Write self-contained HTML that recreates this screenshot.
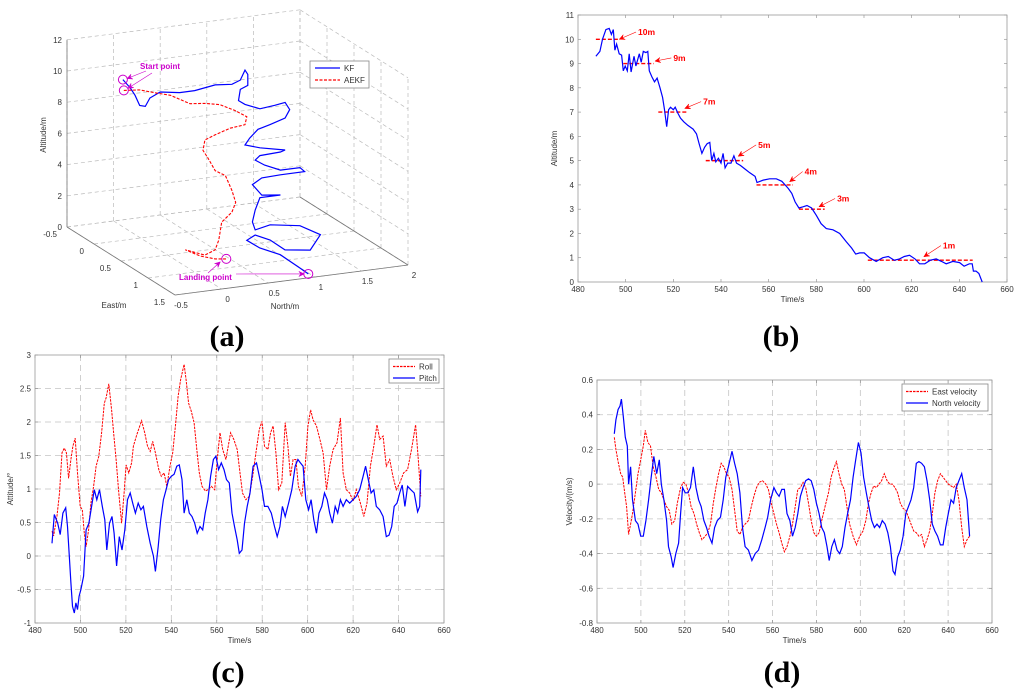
<!DOCTYPE html>
<html><head><meta charset="utf-8"><style>
html,body{margin:0;padding:0;background:#fff;}
svg{display:block;font-family:"Liberation Sans",Arial,sans-serif;}
.tk{font-size:8px;fill:#333;}
.pl{font-family:"Liberation Serif",serif;font-weight:bold;font-size:30px;fill:#000;}
</style></head><body>
<svg id="fig" width="1024" height="694" viewBox="0 0 1024 694"></svg>
<script>
// ---------- data: panel (a) 3D trajectories ----------
const kfNorth=[-0.19,-0.11,-0.06,-0.01,0.05,0.10,0.21,0.42,0.58,0.80,0.98,1.07,1.12,1.15,1.15,1.07,1.05,1.12,1.28,1.44,1.55,1.60,1.55,1.39,1.26,1.17,1.12,1.28,1.55,1.50,1.28,1.23,1.33,1.50,1.71,1.76,1.50,1.30,1.20,1.30,1.50,1.28,1.23,1.20,0.65,0.81,1.13,1.35,1.24,0.97,0.81,0.65,0.56,0.70,0.92,0.84,0.93];
const kfEast=[0,0,0,0,0,0,0,0,0,0,0,0,0,0,0,0,0,0,0,0,0,0,0,0,0,0,0,0,0,0,0,0,0,0,0,0,0,0,0,0,0,0,0,0,1,1,1,1,1,1,1,1,1,1,1,1.5,1.5];
const kfAlt=[10.3,9.7,9.2,8.5,8.4,8.9,9.2,9.0,9.0,9.2,9.1,9.3,9.9,9.6,8.9,8.7,8.0,7.7,7.3,7.4,7.5,7.0,6.5,6.2,6.0,5.5,5.1,4.8,4.45,4.36,4.3,4.05,3.65,3.2,3.2,2.9,2.9,2.85,2.5,1.75,1.6,1.6,0.85,0.1,2.2,2.4,2.1,1.35,0.45,0.67,1.43,1.87,1.6,1.0,0.4,0.7,0.25];
const aekfNorth=[-0.18,-0.01,0.15,0.32,0.53,0.69,0.85,1.01,1.14,1.12,0.96,0.80,0.69,0.67,0.72,0.80,0.91,0.98,1.02,0.98,0.87,0.26,0.22,0.11,-0.10,0.06,0.22,0.34];
const aekfEast=[0,0,0,0,0,0,0,0,0,0,0,0,0,0,0,0,0,0,0,0,0,1,1,1,1,1,1,1];
const aekfAlt=[9.6,9.5,9.2,8.9,8.2,8.1,7.9,7.4,6.9,6.4,6.3,6.0,5.75,5.1,4.6,3.7,3.3,2.3,1.5,0.9,0.35,1.85,1.25,1.0,1.5,0.98,0.67,0.58];
const altTicks=[0,2,4,6,8,10,12];
const eastTicks=[-0.5,0,0.5,1,1.5];
const northTicks=[-0.5,0,0.5,1,1.5,2];

// ---------- data: panel (b) ----------
const bTime=[487.5,489.2,490.3,491.7,493.1,494,494.8,495.5,496.2,497.3,498.3,499,499.8,500.7,501.5,502.3,503.5,504.3,505.7,506.5,507.4,508.5,509.3,509.9,511,512.1,513.2,514.4,515.5,516.3,517.2,518,518.8,520,520.8,521.9,523,524.4,526.1,528.3,529.7,530.8,532,533.1,534.2,535.3,536.1,537,537.8,538.9,540,540.9,541.7,542.8,544.2,545.4,546.5,548.2,550.1,552.1,554.3,555.1,557.7,560.4,563.2,565.5,566.9,568.3,569.7,571.1,572.7,574.4,576.1,578,580,582,584.2,587,589.8,592.6,594.8,596.5,598.2,600.1,602.3,605.1,607.9,610.2,612.7,614.9,616.9,619.1,621.4,623.3,625.5,627.8,630.3,632.5,634.5,637.3,640.1,642,644.2,645.4,645.9,647,648.2,649.6];
const bAlt=[9.3,9.5,10.0,10.4,10.45,10.2,10.4,9.55,9.8,9.4,9.35,8.7,8.9,8.7,9.4,8.65,9.3,8.9,9.4,9.05,9.5,9.45,9.5,8.7,8.45,8.25,8.4,8.0,7.6,7.1,6.4,7.1,7.2,7.1,7.2,6.95,6.75,6.6,6.45,6.3,6.1,5.7,5.3,5.55,5.7,5.75,5.0,5.3,4.95,5.1,4.9,5.3,4.7,4.9,4.9,5.2,4.9,4.8,4.65,4.5,4.35,4.1,4.2,4.25,4.25,4.15,4.0,3.85,3.65,3.3,3.05,3.1,3.15,3.05,2.75,2.4,2.2,2.15,2.0,1.65,1.4,1.15,1.2,1.2,1.0,0.85,1.0,1.05,0.9,0.95,1.05,1.1,0.95,0.75,0.75,0.9,0.95,0.85,0.75,0.85,0.8,0.65,0.75,0.75,0.45,0.45,0.35,0.0];
const refLevel=[10,9,7,5,4,3,0.9];
const refStart=[487.5,499,513.7,533.6,554.9,572.7,601.6];
const refEnd=[497.3,511.8,525.5,549.3,570.2,583.5,645.6];
const annLabels=['10m','9m','7m','5m','4m','3m','1m'];
const annTipT=[497.3,512.3,524.8,547.2,568.8,581.1,625.1];
const annTipA=[10.0,9.1,7.15,5.18,4.13,3.1,1.04];
const annTextT=[505.2,520,532.5,555.6,575.1,588.7,633.1];
const annTextA=[10.3,9.23,7.43,5.65,4.55,3.44,1.5];
const timeTicks=[480,500,520,540,560,580,600,620,640,660];
const bAltTicks=[0,1,2,3,4,5,6,7,8,9,10,11];

// ---------- data: panel (c) ----------
const rollTime=[487.5,488.2,489.7,490.8,491.9,492.9,493.8,494.8,495.8,496.7,497.7,498.7,499.9,500.8,501.7,502.5,503.6,504.6,505.8,506.9,508.1,509.3,510.5,511.3,512.5,513.7,514.6,515.7,516.9,518.1,519.2,520.1,521.3,522.5,523.3,524.8,526.9,528.3,529.5,530.7,531.8,533,534.5,535.6,536.8,538,539.4,540.6,541.8,543,544.1,545.6,546.5,547.6,548.8,550,551.2,552.3,553.5,555,556.1,557.6,559.1,560.2,561.4,562.6,564,566.1,567.5,569,570.2,571.3,572.8,574.3,575.8,577.2,578.7,579.9,581,582.5,583.7,584.8,586,587.2,588.6,590.1,591.3,592.4,593.6,594.8,595.9,597.4,598.9,600.1,601.3,602.4,603.9,605.4,606.8,608.3,609.7,611.2,612.9,614.4,615.6,617,618.5,620,621.4,623.2,624.7,626.1,627.6,629.1,630.5,631.7,633.2,634.6,636.1,637.5,639,640.5,642.2,644,645.7,647.5,648.7,649.8];
const rollVal=[0.37,0.3,0.6,0.94,1.54,1.61,1.54,1.16,1.44,1.64,1.76,1.24,0.74,0.69,0.34,0.14,0.39,0.79,1.04,1.34,1.49,1.84,2.28,2.36,2.57,2.18,1.84,1.44,0.94,0.49,0.94,1.36,1.24,1.39,1.64,1.81,2.02,1.84,1.64,1.56,1.71,1.54,1.29,1.19,1.24,1.04,1.34,1.54,1.94,2.38,2.63,2.86,2.63,2.28,2.16,1.99,1.59,1.24,1.04,0.97,0.99,1.04,0.99,1.44,1.84,1.59,1.44,1.84,1.74,1.59,1.24,0.94,0.84,0.89,1.19,1.54,1.89,2.01,1.64,1.59,1.84,1.94,1.54,0.99,1.09,1.99,1.64,1.19,1.44,1.44,1.04,0.89,1.34,1.94,2.18,2.03,1.94,1.74,1.54,0.99,1.34,1.59,1.69,2.06,1.24,0.99,0.94,0.82,0.99,0.79,0.59,0.79,1.34,1.64,1.96,1.74,1.79,1.34,1.44,1.19,0.99,1.09,1.24,1.29,1.59,1.96,1.44,0.89];
const pitchTime=[487.5,488.5,490,491.1,492.3,493.5,494.3,495.2,495.8,496.5,497.3,498,498.7,499.4,500.2,501.4,502.5,503.7,504.9,506.1,507.2,508.4,509.6,510.7,511.6,512.8,513.9,514.8,515.9,517.1,518.3,519.5,520.7,521.9,523,524.2,525.4,526.6,527.7,529.2,530.7,532.1,533,534.2,535.3,536.5,537.7,538.8,540,541.2,542.4,543.5,544.7,545.6,546.8,547.9,549.1,550.3,551.4,552.6,553.8,554.9,556.1,557.3,558.5,559.6,560.8,562,563.2,564.3,565.5,566.7,567.8,569,569.9,571.1,572.2,573.4,574.6,576,577.5,578.7,579.9,581,582.5,584,585.4,586.6,587.8,588.9,590.1,591.6,593,594.5,595.7,596.8,598,599.2,600.4,601.5,602.7,603.9,605,606.2,607.4,608.6,609.7,610.9,612.1,613.2,614.4,615.6,617,618.5,620,621.4,622.9,624.4,625.5,626.7,627.9,629.1,630.2,631.7,633.2,634.6,635.8,637,638.1,639.3,640.5,641.6,642.8,644,645.4,646.9,648.4,649.3,649.8];
const pitchVal=[0.19,0.62,0.49,0.32,0.64,0.72,0.44,-0.05,-0.4,-0.75,-0.85,-0.7,-0.8,-0.6,-0.5,-0.3,0.39,0.49,0.74,0.99,0.84,0.99,0.74,0.54,0.09,0.49,0.59,0.34,-0.15,0.29,0.09,0.39,0.84,0.94,0.79,0.64,0.79,0.69,0.74,0.44,0.19,0.0,-0.23,0.14,0.54,0.84,0.99,1.14,1.19,1.22,1.34,1.36,1.14,0.64,0.84,0.64,0.59,0.49,0.34,0.44,0.39,0.64,0.84,1.19,1.44,1.49,1.29,1.39,1.29,1.14,1.09,0.64,0.44,0.24,0.04,0.09,0.49,0.74,0.94,1.34,1.39,1.19,0.99,0.74,0.74,0.64,0.44,0.29,0.44,0.74,0.59,0.79,0.99,1.34,1.44,1.39,1.34,0.84,0.69,0.84,0.54,0.34,0.64,0.74,0.94,0.84,0.64,0.49,0.74,0.64,0.84,0.74,0.84,0.79,0.84,0.89,0.99,1.19,1.34,1.14,0.94,0.99,0.74,0.69,0.59,0.29,0.31,0.44,0.74,0.79,0.94,1.06,0.74,1.04,0.99,0.94,0.66,0.74,1.29];
const cTicks=[-1,-0.5,0,0.5,1,1.5,2,2.5,3];

// ---------- data: panel (d) ----------
const eastTime=[487.9,488.6,489.6,490.8,491.7,492.6,493.5,494.4,495.3,496.2,497.5,498.7,499.9,501.1,502,503.2,504.4,505.6,506.9,508.1,509.3,510.5,511.7,512.9,514.1,515.4,516.6,518.1,519.3,520.5,521.7,522.9,524.2,525.4,526.6,527.8,529.3,530.5,531.7,533,534.2,535.4,536.6,537.8,539,540.2,541.5,542.7,543.9,545.1,546.3,547.5,549,550.3,551.5,552.7,553.9,555.4,556.9,558.1,559.4,560.6,561.8,563,564.2,565.4,566.6,567.9,569.1,570.3,571.5,572.7,573.9,575.1,576.4,577.6,578.8,580,581.2,582.4,583.9,585.5,586.7,587.9,589.1,590.3,591.5,592.7,593.9,595.1,596.7,598.2,599.7,601.2,602.5,603.7,604.9,606.1,607.3,608.5,609.7,610.9,612.2,613.4,614.6,615.8,617,618.2,619.5,620.7,621.9,623.1,624.3,625.5,626.7,627.9,629.2,630.4,631.6,632.8,634,635.2,636.5,637.7,638.9,640.1,641.3,642.5,643.7,644.9,646.2,647.4,648.6,649.8];
const eastVal=[0.27,0.2,0.13,0.06,0.04,-0.05,-0.13,-0.29,-0.23,-0.17,-0.05,0.06,0.14,0.22,0.31,0.24,0.22,0.1,0.04,-0.03,-0.05,-0.09,-0.13,-0.15,-0.23,-0.21,-0.11,-0.02,0.01,0.0,-0.05,-0.13,-0.17,-0.23,-0.28,-0.32,-0.3,-0.28,-0.23,-0.11,-0.02,0.06,0.12,0.1,0.06,0.04,-0.03,-0.15,-0.27,-0.29,-0.25,-0.23,-0.21,-0.13,-0.07,-0.02,0.01,0.02,0.0,-0.03,-0.11,-0.17,-0.23,-0.28,-0.34,-0.39,-0.36,-0.3,-0.23,-0.13,-0.03,-0.02,0.01,-0.02,-0.11,-0.21,-0.28,-0.3,-0.28,-0.21,-0.13,-0.05,0.04,0.09,0.13,0.06,0.0,-0.03,-0.13,-0.23,-0.3,-0.35,-0.3,-0.27,-0.21,-0.11,-0.05,-0.01,-0.02,0.0,0.02,0.06,0.02,0.0,0.0,-0.02,-0.05,-0.11,-0.14,-0.15,-0.19,-0.23,-0.27,-0.28,-0.3,-0.29,-0.36,-0.32,-0.27,-0.17,-0.05,0.02,0.06,0.04,0.02,0.0,-0.01,-0.02,0.0,-0.09,-0.25,-0.36,-0.32,-0.3];
const northTime=[487.9,488.6,489.6,490.5,491.1,492,492.9,493.8,494.4,495.3,496.2,497.5,498.7,499.9,501.1,502.3,503.5,504.7,505.9,507.2,508.4,509.3,510.5,511.7,512.6,513.8,514.7,515.9,517.2,518.1,519,520.2,521.4,522.6,523.9,525.1,526.3,527.5,528.7,529.9,531.1,532.4,533.6,534.8,536.3,537.5,538.7,539.9,541.5,542.7,543.9,545.1,546.3,547.5,549,550.6,552.1,553.6,555.1,556.6,557.8,559.1,560.6,561.8,563,564.2,565.4,566.6,567.9,569.1,570.3,571.5,572.7,573.9,575.1,576.4,577.6,578.8,580,581.2,582.4,583.6,584.8,585.8,587,588.2,589.4,590.6,591.8,593,594.2,595.5,596.7,597.9,599.1,600.3,601.5,602.7,603.9,605.2,606.4,607.6,608.8,610,611.3,612.5,613.7,614.9,615.8,617,618.2,619.5,620.7,621.9,623.1,624.3,625.5,626.7,627.9,629.2,630.4,631.6,632.8,634,635.2,636.5,637.7,638.9,640.1,641.3,642.5,643.7,644.9,646.2,647.4,648.6,649.8];
const northVal=[0.29,0.37,0.43,0.45,0.49,0.39,0.27,0.22,0.0,0.1,-0.09,-0.21,-0.23,-0.3,-0.3,-0.21,-0.09,0.04,0.16,0.06,0.14,0.0,-0.09,-0.21,-0.36,-0.42,-0.48,-0.4,-0.34,-0.17,-0.02,-0.05,-0.05,-0.02,0.1,-0.02,-0.09,-0.13,-0.21,-0.25,-0.3,-0.34,-0.25,-0.21,-0.19,-0.09,0.04,0.1,0.19,0.12,0.06,-0.05,-0.25,-0.36,-0.38,-0.44,-0.4,-0.38,-0.32,-0.25,-0.19,-0.09,-0.02,-0.05,-0.07,-0.03,-0.03,-0.17,-0.21,-0.3,-0.25,-0.17,-0.07,-0.02,0.02,0.03,0.02,-0.03,-0.11,-0.17,-0.25,-0.28,-0.36,-0.44,-0.36,-0.32,-0.38,-0.4,-0.36,-0.25,-0.17,-0.09,0.04,0.14,0.24,0.18,0.04,-0.05,-0.13,-0.21,-0.25,-0.23,-0.25,-0.21,-0.23,-0.28,-0.36,-0.5,-0.52,-0.42,-0.38,-0.3,-0.17,-0.13,-0.09,-0.02,0.12,0.13,0.12,0.1,0.02,-0.09,-0.23,-0.27,-0.3,-0.35,-0.35,-0.25,-0.17,-0.09,-0.11,-0.02,0.02,0.06,-0.02,-0.09,-0.3];
const dTicks=[-0.8,-0.6,-0.4,-0.2,0,0.2,0.4,0.6];

// ---------- helpers ----------
const NS='http://www.w3.org/2000/svg';
const svg=document.getElementById('fig');
function mk(tag,attrs,parent){const e=document.createElementNS(NS,tag);for(const k in attrs)e.setAttribute(k,attrs[k]);(parent||svg).appendChild(e);return e;}
function lin(d0,d1,r0,r1){return v=>r0+(v-d0)/(d1-d0)*(r1-r0);}
function pts(xs,ys,sx,sy){return xs.map((v,i)=>sx(v).toFixed(1)+','+sy(ys[i]).toFixed(1)).join(' ');}
function fmt(v){return (Math.round(v*10)/10).toString();}

// ---------- panel (a) ----------
function proj(n,e,a){return [67+(e+0.5)/2*108+(n+0.5)/2.5*233, 227+(e+0.5)/2*68-(n+0.5)/2.5*30-a*15.6];}
const gA=mk('g',{});


function seg3(p,q,style,name){const a=proj(...p),b=proj(...q);const l=mk('line',Object.assign({x1:a[0],y1:a[1],x2:b[0],y2:b[1]},style),gA);

}
const gs={stroke:'#bbb','stroke-width':0.7,'stroke-dasharray':'4,3'};
const ax={stroke:'#777','stroke-width':0.8};
northTicks.forEach(n=>{seg3([n,-0.5,0],[n,-0.5,12],gs,'grid-back-vertical');seg3([n,-0.5,0],[n,1.5,0],gs,'grid-floor-north');});
eastTicks.forEach(e=>{seg3([2,e,0],[2,e,12],gs,'grid-side-vertical');seg3([-0.5,e,0],[2,e,0],gs,'grid-floor-east');});
altTicks.forEach(a=>{seg3([-0.5,-0.5,a],[2,-0.5,a],gs,'grid-back-horizontal');seg3([2,-0.5,a],[2,1.5,a],gs,'grid-side-horizontal');});
seg3([-0.5,-0.5,0],[-0.5,-0.5,12],ax,'altitude-axis');
seg3([-0.5,-0.5,0],[-0.5,1.5,0],ax,'east-axis');
seg3([-0.5,1.5,0],[2,1.5,0],ax,'north-axis');
seg3([2,1.5,0],[2,-0.5,0],ax,'floor-edge');
altTicks.forEach(a=>{const p=proj(-0.5,-0.5,a);const t=mk('text',{x:p[0]-5,y:p[1]+3,'text-anchor':'end',class:'tk'},gA);t.textContent=a;

});
eastTicks.forEach(e=>{const p=proj(-0.5,e,0);const t=mk('text',{x:p[0]-10,y:p[1]+10,'text-anchor':'end',class:'tk'},gA);t.textContent=e;

});
northTicks.forEach(n=>{const p=proj(n,1.5,0);const t=mk('text',{x:p[0]+6,y:p[1]+13,'text-anchor':'middle',class:'tk'},gA);t.textContent=n;

});
function p3(ns,es,as){return ns.map((n,i)=>proj(n,es[i],as[i]).map(v=>v.toFixed(1)).join(',')).join(' ');}
const kfL=mk('polyline',{points:p3(kfNorth,kfEast,kfAlt),fill:'none',stroke:'#0000ff','stroke-width':1.2},gA);


const aeL=mk('polyline',{points:p3(aekfNorth,aekfEast,aekfAlt),fill:'none',stroke:'#ff0000','stroke-width':1.1,'stroke-dasharray':'3,1.5'},gA);


const mag='#cc00cc';
[[kfNorth,kfEast,kfAlt,0],[aekfNorth,aekfEast,aekfAlt,0],[kfNorth,kfEast,kfAlt,kfNorth.length-1],[aekfNorth,aekfEast,aekfAlt,aekfNorth.length-1]].forEach(s=>{const p=proj(s[0][s[3]],s[1][s[3]],s[2][s[3]]);const c=mk('circle',{cx:p[0],cy:p[1],r:4.5,fill:'none',stroke:mag,'stroke-width':1},gA);

});
const sp=mk('text',{x:140,y:69,fill:mag,'font-size':'8px','font-weight':'bold'},gA);sp.textContent='Start point';


const lp=mk('text',{x:179,y:280,fill:mag,'font-size':'8px','font-weight':'bold'},gA);lp.textContent='Landing point';


function arrow(g,x1,y1,x2,y2,col,name){const l=mk('line',{x1:x1,y1:y1,x2:x2,y2:y2,stroke:col,'stroke-width':0.6},g);


const ang=Math.atan2(y2-y1,x2-x1),L=6,w=0.45;const h=mk('path',{d:`M${x2-L*Math.cos(ang-w)},${y2-L*Math.sin(ang-w)} L${x2},${y2} L${x2-L*Math.cos(ang+w)},${y2-L*Math.sin(ang+w)} L${x2-L*0.6*Math.cos(ang)},${y2-L*0.6*Math.sin(ang)} Z`,fill:col,stroke:col,'stroke-width':0.5},g);

}
{const s1=proj(kfNorth[0],kfEast[0],kfAlt[0]),s2=proj(aekfNorth[0],aekfEast[0],aekfAlt[0]);
arrow(gA,146,71,s1[0]+4,s1[1]-1,mag,'start-arrow-kf');arrow(gA,152,73,s2[0]+4,s2[1]-2,mag,'start-arrow-aekf');
const l1=proj(aekfNorth[aekfNorth.length-1],aekfEast[aekfEast.length-1],aekfAlt[aekfAlt.length-1]),l2=proj(kfNorth[kfNorth.length-1],kfEast[kfEast.length-1],kfAlt[kfAlt.length-1]);
arrow(gA,208,273,l1[0]-6,l1[1]+3,mag,'landing-arrow-aekf');arrow(gA,236,274,l2[0]-4,l2[1],mag,'landing-arrow-kf');}
const lgA=mk('g',{},gA);


mk('rect',{x:310,y:61,width:59,height:27,fill:'#fff',stroke:'#888','stroke-width':0.8},lgA);
mk('line',{x1:315,y1:68,x2:340,y2:68,stroke:'#0000ff','stroke-width':1.3},lgA);
mk('line',{x1:315,y1:80,x2:340,y2:80,stroke:'#ff0000','stroke-width':1.2,'stroke-dasharray':'3,1.5'},lgA);
{const t=mk('text',{x:344,y:71,class:'tk'},lgA);t.textContent='KF';


const t2=mk('text',{x:344,y:83,class:'tk'},lgA);t2.textContent='AEKF';

}
{const t=mk('text',{x:46,y:135,class:'tk',transform:'rotate(-90 46 135)','text-anchor':'middle'},gA);t.textContent='Altitude/m';


const t2=mk('text',{x:114,y:308,class:'tk','text-anchor':'middle'},gA);t2.textContent='East/m';


const t3=mk('text',{x:285,y:309,class:'tk','text-anchor':'middle'},gA);t3.textContent='North/m';

}

// ---------- generic 2D axes ----------
function axes2d(cfg){
 const g=mk('g',{});
 
 
 const sx=lin(cfg.xmin,cfg.xmax,cfg.x0,cfg.x1),sy=lin(cfg.ymin,cfg.ymax,cfg.y1,cfg.y0);
 mk('rect',{x:cfg.x0,y:cfg.y0,width:cfg.x1-cfg.x0,height:cfg.y1-cfg.y0,fill:'#fff',stroke:'none'},g);
 cfg.xt.forEach(v=>{const x=sx(v);
  if(cfg.grid&&v>cfg.xmin&&v<cfg.xmax){const l=mk('line',{x1:x,y1:cfg.y0,x2:x,y2:cfg.y1,stroke:'#c4c4c4','stroke-width':0.8,'stroke-dasharray':'6,4'},g);
  
  }
  mk('line',{x1:x,y1:cfg.y1,x2:x,y2:cfg.y1-3,stroke:'#888','stroke-width':0.6},g);
  mk('line',{x1:x,y1:cfg.y0,x2:x,y2:cfg.y0+3,stroke:'#888','stroke-width':0.6},g);
  const t=mk('text',{x:x,y:cfg.y1+10,'text-anchor':'middle',class:'tk'},g);t.textContent=v;
  
  });
 cfg.yt.forEach(v=>{const y=sy(v);
  if(cfg.grid&&v>cfg.ymin&&v<cfg.ymax){const l=mk('line',{x1:cfg.x0,y1:y,x2:cfg.x1,y2:y,stroke:'#c4c4c4','stroke-width':0.8,'stroke-dasharray':'6,4'},g);
  
  }
  mk('line',{x1:cfg.x0,y1:y,x2:cfg.x0+3,y2:y,stroke:'#888','stroke-width':0.6},g);
  mk('line',{x1:cfg.x1,y1:y,x2:cfg.x1-3,y2:y,stroke:'#888','stroke-width':0.6},g);
  const t=mk('text',{x:cfg.x0-4,y:y+3,'text-anchor':'end',class:'tk'},g);t.textContent=fmt(v);
  
  });
 const b=mk('rect',{x:cfg.x0,y:cfg.y0,width:cfg.x1-cfg.x0,height:cfg.y1-cfg.y0,fill:'none',stroke:'#999','stroke-width':0.8},g);
 
 
 const xl=mk('text',{x:(cfg.x0+cfg.x1)/2,y:cfg.y1+20,'text-anchor':'middle',class:'tk'},g);xl.textContent=cfg.xlabel;
 
 
 const yx=cfg.ylx,yy=(cfg.y0+cfg.y1)/2;
 const yl=mk('text',{x:yx,y:yy,'text-anchor':'middle',class:'tk',transform:`rotate(-90 ${yx} ${yy})`},g);yl.textContent=cfg.ylabel;
 
 
 return {g,sx,sy};
}
function legend(g,x,y,w,h,items){const lg=mk('g',{},g);
 
 
 mk('rect',{x:x,y:y,width:w,height:h,fill:'#fff',stroke:'#888','stroke-width':0.8},lg);
 items.forEach((it,i)=>{const yy=y+7.5+i*11.5;mk('line',{x1:x+4,y1:yy,x2:x+26,y2:yy,stroke:it.c,'stroke-width':1.2,'stroke-dasharray':it.d||'none'},lg);
 const t=mk('text',{x:x+30,y:yy+3,class:'tk'},lg);t.textContent=it.t;
 
 });}

// ---------- panel (b) ----------
{const A=axes2d({name:'panel-b-altitude-chart',x0:578,x1:1007,y0:15,y1:282,xmin:480,xmax:660,ymin:0,ymax:11,xt:timeTicks,yt:bAltTicks,grid:false,xlabel:'Time/s',ylabel:'Altitude/m',ylx:557});
 refLevel.forEach((lv,i)=>{const l=mk('line',{x1:A.sx(refStart[i]),y1:A.sy(lv),x2:A.sx(refEnd[i]),y2:A.sy(lv),stroke:'#ff0000','stroke-width':1.4,'stroke-dasharray':'4,2'},A.g);
 
 });
 const c=mk('polyline',{points:pts(bTime,bAlt,A.sx,A.sy),fill:'none',stroke:'#0000ff','stroke-width':1.2},A.g);
 
 
 annLabels.forEach((s,i)=>{const tx=A.sx(annTextT[i]),ty=A.sy(annTextA[i]);arrow(A.g,tx-2,ty,A.sx(annTipT[i]),A.sy(annTipA[i]),'#ff0000','annotation-arrow');
 const t=mk('text',{x:tx,y:ty+3,fill:'#ff0000','font-size':'8.5px','font-weight':'bold'},A.g);t.textContent=s;
 
 });}

// ---------- panel (c) ----------
{const A=axes2d({name:'panel-c-attitude-chart',x0:35,x1:444,y0:355,y1:623,xmin:480,xmax:660,ymin:-1,ymax:3,xt:timeTicks,yt:cTicks,grid:true,xlabel:'Time/s',ylabel:'Attitude/°',ylx:13});
 const r=mk('polyline',{points:pts(rollTime,rollVal,A.sx,A.sy),fill:'none',stroke:'#ff0000','stroke-width':1,'stroke-dasharray':'2.5,1'},A.g);
 
 
 const p=mk('polyline',{points:pts(pitchTime,pitchVal,A.sx,A.sy),fill:'none',stroke:'#0000ff','stroke-width':1.2},A.g);
 
 
 legend(A.g,389,359,50,24,[{c:'#ff0000',d:'2.5,1',t:'Roll'},{c:'#0000ff',t:'Pitch'}]);}

// ---------- panel (d) ----------
{const A=axes2d({name:'panel-d-velocity-chart',x0:597,x1:992,y0:380,y1:623,xmin:480,xmax:660,ymin:-0.8,ymax:0.6,xt:timeTicks,yt:dTicks,grid:true,xlabel:'Time/s',ylabel:'Velocity/(m/s)',ylx:572});
 const r=mk('polyline',{points:pts(eastTime,eastVal,A.sx,A.sy),fill:'none',stroke:'#ff0000','stroke-width':1,'stroke-dasharray':'2.5,1'},A.g);
 
 
 const p=mk('polyline',{points:pts(northTime,northVal,A.sx,A.sy),fill:'none',stroke:'#0000ff','stroke-width':1.2},A.g);
 
 
 legend(A.g,902,384,86,27,[{c:'#ff0000',d:'2.5,1',t:'East velocity'},{c:'#0000ff',t:'North velocity'}]);}

// ---------- panel letters ----------
[['(a)',227,346],['(b)',781,346],['(c)',228,682],['(d)',782,682]].forEach(s=>{const t=mk('text',{x:s[1],y:s[2],'text-anchor':'middle',class:'pl'});t.textContent=s[0];

});
</script>
</body></html>
